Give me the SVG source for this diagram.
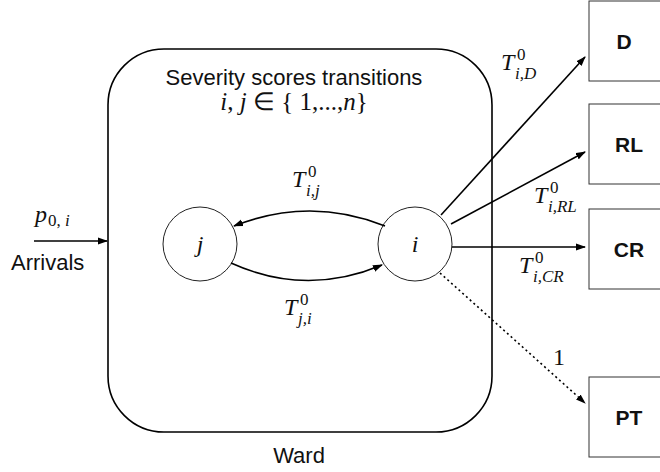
<svg xmlns="http://www.w3.org/2000/svg" width="660" height="472" viewBox="0 0 660 472">
<style>
.sans{font-family:"Liberation Sans",Arial,sans-serif;fill:#111;}
.lbl{font-size:22px;}
.box{fill:#fff;stroke:#333;stroke-width:1;}
.bl{font-family:"Liberation Sans",Arial,sans-serif;font-size:21px;font-weight:bold;fill:#111;text-anchor:middle;}
.m{font-family:"Liberation Serif","Times New Roman",serif;font-style:italic;font-size:24px;fill:#111;}
.s{font-family:"Liberation Serif","Times New Roman",serif;font-size:17px;fill:#111;}
.si{font-family:"Liberation Serif","Times New Roman",serif;font-style:italic;font-size:17px;fill:#111;}
.ln{fill:none;stroke:#000;stroke-width:1.6;}
.node{fill:#fff;stroke:#222;stroke-width:1;}
</style>
<defs>
<marker id="ah" markerWidth="10" markerHeight="8" refX="9" refY="4" orient="auto" markerUnits="userSpaceOnUse">
<path d="M0,0.5 L10,4 L0,7.5 Z" fill="#000"/>
</marker>
</defs>
<g id="ward">
<rect x="108" y="49" width="384" height="383" rx="56" ry="56" fill="none" stroke="#000" stroke-width="1.6"/>
<text class="sans lbl" x="294" y="85" text-anchor="middle">Severity scores transitions</text>
<text x="294" y="110" text-anchor="middle" style="font-family:'Liberation Serif','Times New Roman',serif;font-size:25px;fill:#111;"><tspan font-style="italic">i</tspan>, <tspan font-style="italic">j</tspan> ∈ { 1,...,<tspan font-style="italic">n</tspan>}</text>
<text class="sans lbl" x="299" y="463" text-anchor="middle">Ward</text>
</g>
<g id="node-j">
<circle class="node" cx="200" cy="244" r="37"/>
<text class="m" x="200" y="252" text-anchor="middle">j</text>
</g>
<g id="node-i">
<circle class="node" cx="415" cy="244" r="37"/>
<text class="m" x="415" y="252" text-anchor="middle">i</text>
</g>
<g id="box-D">
<rect class="box" x="589" y="1" width="80" height="80"/>
<text class="bl" x="624" y="49">D</text>
</g>
<g id="box-RL">
<rect class="box" x="589" y="104" width="80" height="80"/>
<text class="bl" x="629" y="152">RL</text>
</g>
<g id="box-CR">
<rect class="box" x="589" y="209" width="80" height="80"/>
<text class="bl" x="629" y="257">CR</text>
</g>
<g id="box-PT">
<rect class="box" x="589" y="377" width="80" height="80"/>
<text class="bl" x="629" y="425">PT</text>
</g>
<g id="arrivals">
<text class="sans lbl" x="11" y="270">Arrivals</text>
<text class="m" x="35" y="222">p</text>
<text class="s" x="48" y="226">0, <tspan font-style="italic">i</tspan></text>
</g>
<g id="connectors">
<path class="ln" d="M34,241 L107,241" marker-end="url(#ah)"/>
<path class="ln" d="M385,226 Q310,196 234,226" marker-end="url(#ah)"/>
<path class="ln" d="M231,263 Q306,297 382,265" marker-end="url(#ah)"/>
<path class="ln" d="M441,215 L585,57" marker-end="url(#ah)"/>
<path class="ln" d="M451,224 L585,152" marker-end="url(#ah)"/>
<path class="ln" d="M452,247 L585,247" marker-end="url(#ah)"/>
<path class="ln" d="M440,273 L585,403" stroke-dasharray="2,3" marker-end="url(#ah)"/>
</g>
<g id="labels">
<text class="m" x="292" y="187">T</text><text class="s" x="308" y="177">0</text><text class="si" x="306" y="196">i,j</text>
<text class="m" x="284" y="315">T</text><text class="s" x="300" y="305">0</text><text class="si" x="298" y="324">j,i</text>
<text class="m" x="501" y="70">T</text><text class="s" x="517" y="60">0</text><text class="si" x="515" y="79">i,D</text>
<text class="m" x="534" y="203">T</text><text class="s" x="550" y="193">0</text><text class="si" x="548" y="212">i,RL</text>
<text class="m" x="519" y="273">T</text><text class="s" x="535" y="263">0</text><text class="si" x="533" y="282">i,CR</text>
<text x="553" y="365" style="font-family:'Liberation Serif','Times New Roman',serif;font-size:24px;fill:#111;">1</text>
</g>
</svg>
